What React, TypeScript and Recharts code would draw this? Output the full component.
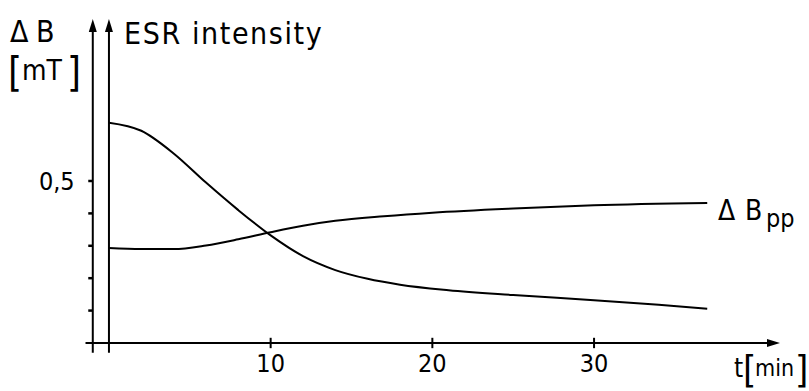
import React from 'react';
import {
  LineChart,
  Line,
  XAxis,
  YAxis,
  ReferenceLine,
  ReferenceDot,
} from 'recharts';

// ESR intensity (arbitrary units, drawn on the same 0..1 frame)
const esrPoints = [
  { t: 0, v: 0.68 },
  { t: 2, v: 0.655 },
  { t: 4, v: 0.585 },
  { t: 6, v: 0.495 },
  { t: 8, v: 0.41 },
  { t: 10, v: 0.332 },
  { t: 12, v: 0.268 },
  { t: 14, v: 0.225 },
  { t: 16, v: 0.198 },
  { t: 18, v: 0.18 },
  { t: 21, v: 0.163 },
  { t: 25, v: 0.148 },
  { t: 30, v: 0.132 },
  { t: 34, v: 0.118 },
  { t: 37, v: 0.106 },
];

// line width dBpp in mT
const dbppPoints = [
  { t: 0, v: 0.293 },
  { t: 2, v: 0.29 },
  { t: 4, v: 0.29 },
  { t: 6, v: 0.301 },
  { t: 8, v: 0.32 },
  { t: 10, v: 0.342 },
  { t: 12, v: 0.362 },
  { t: 14, v: 0.377 },
  { t: 17, v: 0.391 },
  { t: 20, v: 0.402 },
  { t: 25, v: 0.415 },
  { t: 30, v: 0.425 },
  { t: 37, v: 0.432 },
];

const xTicks = [10, 20, 30];
const yTicks = [0.1, 0.2, 0.3, 0.4, 0.5];
const yLabelTicks = [0.5];

const font = "'DejaVu Sans Condensed', 'DejaVu Sans', sans-serif";

const upArrow = (p: any) => (
  <path d={`M${p.cx},${p.cy} l-4,13 l8,0 z`} fill="#000" />
);
const rightArrow = (p: any) => (
  <path d={`M${p.cx},${p.cy} l-13,-4 l0,8 z`} fill="#000" />
);

export default function App() {
  return (
    <div style={{ position: 'relative', width: 809, height: 391 }}>
      <style>{'body{margin:0;overflow:hidden;background:#fff}'}</style>
      <LineChart
        width={809}
        height={391}
        margin={{ top: 19, right: 29, bottom: 8.3, left: 24.7 }}
      >
        <XAxis
          type="number"
          dataKey="t"
          domain={[-1.5, 41.5]}
          ticks={xTicks}
          allowDataOverflow
          axisLine={false}
          tickLine={false}
          tickSize={0}
          tickMargin={2}
          height={30}
          tick={{ fontFamily: font, fontSize: 25, fill: '#000' }}
        />
        <YAxis
          type="number"
          domain={[-0.03, 1]}
          ticks={yLabelTicks}
          allowDataOverflow
          axisLine={false}
          tickLine={false}
          tickSize={0}
          tickMargin={10}
          width={60}
          tickFormatter={(v: number) => String(v).replace('.', ',')}
          tick={{ fontFamily: font, fontSize: 25, fill: '#000' }}
        />

        {/* axes */}
        <ReferenceLine
          segment={[{ x: -1.45, y: 0 }, { x: 41, y: 0 }]}
          stroke="#000"
          strokeWidth={2}
          ifOverflow="visible"
        />
        <ReferenceLine
          segment={[{ x: -1, y: -0.03 }, { x: -1, y: 0.97 }]}
          stroke="#000"
          strokeWidth={2}
          ifOverflow="visible"
        />
        <ReferenceLine
          segment={[{ x: 0, y: -0.03 }, { x: 0, y: 0.97 }]}
          stroke="#000"
          strokeWidth={2}
          ifOverflow="visible"
        />
        <ReferenceDot x={41.5} y={0} r={0} ifOverflow="visible" shape={rightArrow} />
        <ReferenceDot x={-1} y={1} r={0} ifOverflow="visible" shape={upArrow} />
        <ReferenceDot x={0} y={1} r={0} ifOverflow="visible" shape={upArrow} />

        {xTicks.map((t) => (
          <ReferenceLine
            key={`xt-${t}`}
            segment={[{ x: t, y: -0.016 }, { x: t, y: 0.016 }]}
            stroke="#000"
            strokeWidth={2}
            ifOverflow="visible"
          />
        ))}
        {yTicks.map((v) => (
          <ReferenceLine
            key={`yt-${v}`}
            segment={[{ x: -1.28, y: v }, { x: -1, y: v }]}
            stroke="#000"
            strokeWidth={2.5}
            ifOverflow="visible"
          />
        ))}

        <Line
          data={esrPoints}
          dataKey="v"
          type="monotone"
          stroke="#000"
          strokeWidth={2}
          dot={false}
          isAnimationActive={false}
        />
        <Line
          data={dbppPoints}
          dataKey="v"
          type="monotone"
          stroke="#000"
          strokeWidth={2}
          dot={false}
          isAnimationActive={false}
        />
      </LineChart>

      <svg
        width={809}
        height={391}
        style={{ position: 'absolute', left: 0, top: 0, pointerEvents: 'none' }}
      >
        <g fontFamily={font} fill="#000">
          <text x={10} y={42} fontSize={30}>Δ</text>
          <text x={36} y={42} fontSize={30}>B</text>
          <text x={8} y={86} fontSize={40}>[</text>
          <text x={22} y={80} fontSize={28}>mT</text>
          <text x={67} y={86} fontSize={40}>]</text>
          <text x={124} y={44} fontSize={30} letterSpacing={1.6}>ESR intensity</text>
          <text x={718} y={220} fontSize={28}>Δ</text>
          <text x={745} y={220} fontSize={28}>B</text>
          <text x={766} y={227} fontSize={25}>pp</text>
          <text x={734} y={377} fontSize={26}>t</text>
          <text x={743} y={382} fontSize={38}>[</text>
          <text x={755} y={376} fontSize={23}>min</text>
          <text x={795} y={382} fontSize={38}>]</text>
        </g>
      </svg>
    </div>
  );
}
